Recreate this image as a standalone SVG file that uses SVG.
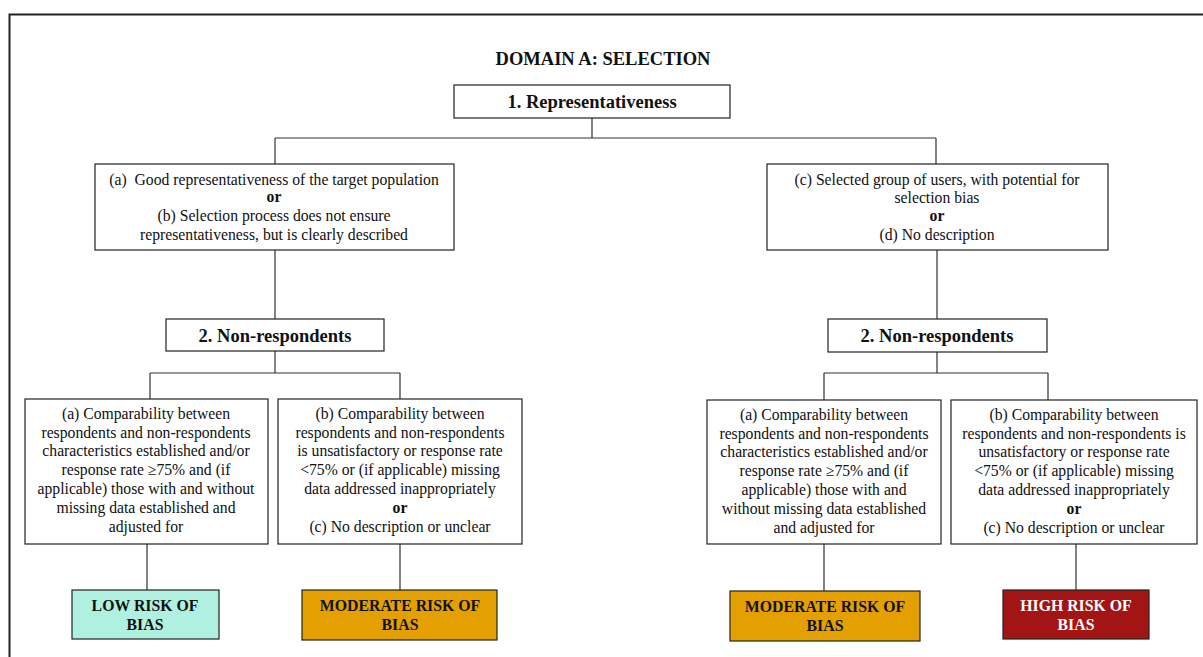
<svg xmlns="http://www.w3.org/2000/svg" width="1203" height="657" viewBox="0 0 1203 657">
<style>
text{font-family:"Liberation Serif","Times New Roman",serif;fill:#111;text-anchor:middle}
.t{font-size:15.7px}
.b{font-size:18.5px;font-weight:bold}
.o{font-size:15.8px;font-weight:bold}
.box{fill:#fff;stroke:#222;stroke-width:1.2}
.ln{fill:none;stroke:#333;stroke-width:1.2}
</style>
<rect width="1203" height="657" fill="#fff"/>
<path d="M9.5,657 V14.5 H1203" fill="none" stroke="#222" stroke-width="2"/>
<text class="b" x="603" y="65">DOMAIN A: SELECTION</text>
<g id="connectors">
<path class="ln" d="M592,118 V138 M275,138 H936 M275,138 V164 M936,138 V164"/>
<path class="ln" d="M275,250 V319 M937,250 V319"/>
<path class="ln" d="M275,351 V373 M150,373 H400 M150,373 V399 M400,373 V399"/>
<path class="ln" d="M937,352 V373 M824,373 H1048 M824,373 V400 M1048,373 V400"/>
<path class="ln" d="M147,544 V590 M400,544 V590 M824,544 V591 M1076,544 V590"/>
</g>
<g id="rep">
<rect class="box" x="454" y="85" width="276" height="33"/>
<text class="b" x="592" y="108">1. Representativeness</text>
</g>
<g id="ab">
<rect class="box" x="95" y="164" width="359" height="86"/>
<text class="t" x="274" y="185" xml:space="preserve">(a)  Good representativeness of the target population</text>
<text class="t" x="274" y="202" font-weight="bold">or</text>
<text class="t" x="274" y="221">(b) Selection process does not ensure</text>
<text class="t" x="274" y="240">representativeness, but is clearly described</text>
</g>
<g id="cd">
<rect class="box" x="767" y="164" width="341" height="86"/>
<text class="t" x="937" y="185">(c) Selected group of users, with potential for</text>
<text class="t" x="937" y="203">selection bias</text>
<text class="t" x="937" y="221" font-weight="bold">or</text>
<text class="t" x="937" y="240">(d) No description</text>
</g>
<g id="nr-left">
<rect class="box" x="166" y="319" width="218" height="32"/>
<text class="b" x="275" y="342">2. Non-respondents</text>
</g>
<g id="nr-right">
<rect class="box" x="828" y="319" width="219" height="33"/>
<text class="b" x="937" y="342">2. Non-respondents</text>
</g>
<g id="la">
<rect class="box" x="25" y="399" width="243" height="145"/>
<text class="t" x="146" y="419">(a) Comparability between</text>
<text class="t" x="146" y="438">respondents and non-respondents</text>
<text class="t" x="146" y="456">characteristics established and/or</text>
<text class="t" x="146" y="475">response rate ≥75% and (if</text>
<text class="t" x="146" y="494">applicable) those with and without</text>
<text class="t" x="146" y="513">missing data established and</text>
<text class="t" x="146" y="532">adjusted for</text>
</g>
<g id="lb">
<rect class="box" x="278" y="399" width="244" height="145"/>
<text class="t" x="400" y="419">(b) Comparability between</text>
<text class="t" x="400" y="438">respondents and non-respondents</text>
<text class="t" x="400" y="456">is unsatisfactory or response rate</text>
<text class="t" x="400" y="475">&lt;75% or (if applicable) missing</text>
<text class="t" x="400" y="494">data addressed inappropriately</text>
<text class="t" x="400" y="513" font-weight="bold">or</text>
<text class="t" x="400" y="532">(c) No description or unclear</text>
</g>
<g id="ra">
<rect class="box" x="707" y="400" width="234" height="144"/>
<text class="t" x="824" y="420">(a) Comparability between</text>
<text class="t" x="824" y="439">respondents and non-respondents</text>
<text class="t" x="824" y="457">characteristics established and/or</text>
<text class="t" x="824" y="476">response rate ≥75% and (if</text>
<text class="t" x="824" y="495">applicable) those with and</text>
<text class="t" x="824" y="514">without missing data established</text>
<text class="t" x="824" y="533">and adjusted for</text>
</g>
<g id="rb">
<rect class="box" x="951" y="400" width="246" height="144"/>
<text class="t" x="1074" y="420">(b) Comparability between</text>
<text class="t" x="1074" y="439">respondents and non-respondents is</text>
<text class="t" x="1074" y="457">unsatisfactory or response rate</text>
<text class="t" x="1074" y="476">&lt;75% or (if applicable) missing</text>
<text class="t" x="1074" y="495">data addressed inappropriately</text>
<text class="t" x="1074" y="514" font-weight="bold">or</text>
<text class="t" x="1074" y="533">(c) No description or unclear</text>
</g>
<g id="low">
<rect x="72" y="590" width="147" height="49" fill="#b0f0e0" stroke="#222" stroke-width="1.2"/>
<text class="o" x="145" y="611">LOW RISK OF</text>
<text class="o" x="145" y="630">BIAS</text>
</g>
<g id="mod-left">
<rect x="302" y="590" width="195" height="50" fill="#e4a000" stroke="#222" stroke-width="1.2"/>
<text class="o" x="400" y="611">MODERATE RISK OF</text>
<text class="o" x="400" y="630">BIAS</text>
</g>
<g id="mod-right">
<rect x="730" y="591" width="190" height="50" fill="#e4a000" stroke="#222" stroke-width="1.2"/>
<text class="o" x="825" y="612">MODERATE RISK OF</text>
<text class="o" x="825" y="631">BIAS</text>
</g>
<g id="high">
<rect x="1003" y="590" width="146" height="49" fill="#a31515" stroke="#222" stroke-width="1.2"/>
<text class="o" x="1076" y="611" style="fill:#fff">HIGH RISK OF</text>
<text class="o" x="1076" y="630" style="fill:#fff">BIAS</text>
</g>
</svg>
